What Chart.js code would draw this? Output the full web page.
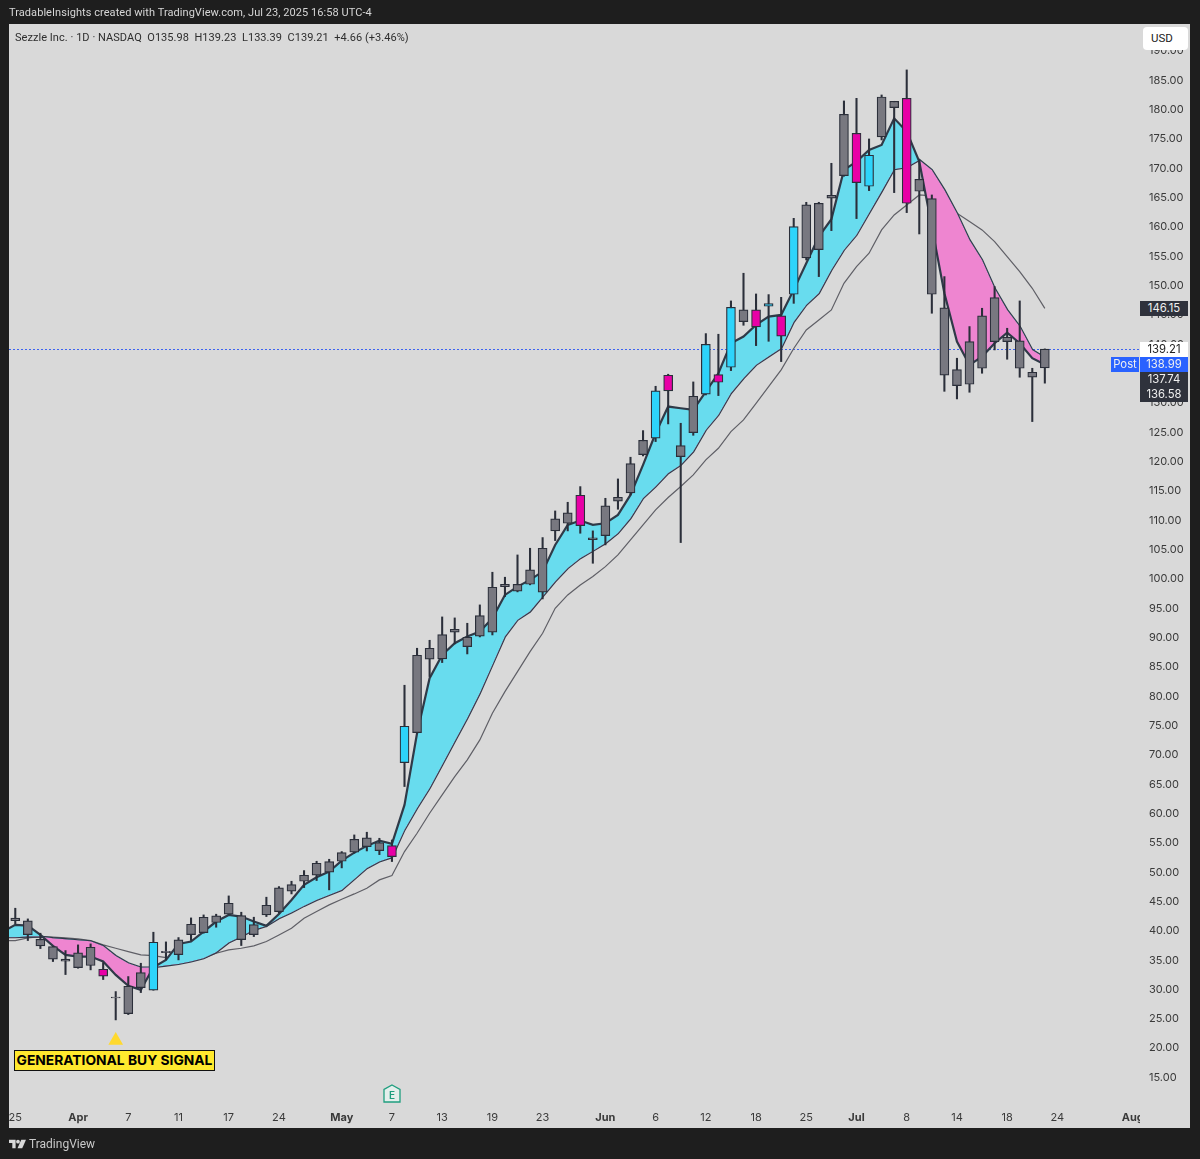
<!DOCTYPE html>
<html>
<head>
<meta charset="utf-8">
<title>Sezzle Inc. daily chart</title>
<script src="https://cdn.jsdelivr.net/npm/chart.js@4"></script>
<style>
html, body { margin: 0; padding: 0; width: 1200px; height: 1159px; overflow: hidden; background: #1e1e1e; font-family: Roboto, Inter, sans-serif; }
#panel { position: absolute; left: 9px; top: 24px; width: 1181px; height: 1104px; background: #d9d9d9; }
#wrap { position: absolute; left: 0; top: 0; width: 1200px; height: 1159px; }
.txt { position: absolute; white-space: pre; }
#credit { left: 9px; top: 6px; font-size: 11px; line-height: 14px; color: #d6d6d6; letter-spacing: 0.06px; }
#legend { left: 15px; top: 31px; font-size: 11px; line-height: 14px; color: #2e2e2e; letter-spacing: 0.04px; }
#usd { left: 1143px; top: 27px; width: 37px; height: 23px; padding-left: 8px; background: #fff; border-radius: 4px; font-size: 11.5px; line-height: 22px; color: #222; }
#brand { left: 29px; top: 1137px; font-size: 12px; line-height: 15px; color: #c9c9c9; }
#logo { position: absolute; left: 9px; top: 1139px; }
#signal { left: 14px; top: 1050px; width: 199px; height: 19px; border: 1px solid #111; background: #ffe92e; color: #000; font-family: Inter, Roboto, sans-serif; font-size: 13.8px; font-weight: 700; line-height: 19px; text-align: center; }
#earn { position: absolute; top: 1084px; width: 18px; height: 19px; margin-left: -9px; }
#augcut { position: absolute; left: 1140px; top: 1108px; width: 20px; height: 18px; background: #d9d9d9; }
.tag { position: absolute; left: 1140px; width: 48px; height: 15px; font-family: Inter, Roboto, sans-serif; font-size: 11.3px; line-height: 15px; text-align: center; color: #f0f0f0; background: #2f323c; }
</style>
</head>
<body>
<div id="panel"></div>
<div id="wrap"><canvas id="chart" width="1200" height="1159"></canvas></div>
<div id="augcut"></div>
<div class="txt" id="credit">TradableInsights created with TradingView.com, Jul 23, 2025 16:58 UTC-4</div>
<div class="txt" id="legend">Sezzle Inc. · 1D · NASDAQ  O135.98  H139.23  L133.39  C139.21  +4.66 (+3.46%)</div>
<div class="txt" id="usd">USD</div>
<div class="txt" id="signal">GENERATIONAL BUY SIGNAL</div>
<svg id="logo" width="17" height="10" viewBox="0 0 36 20"><path fill="#d8d8d8" d="M0 1h14v18H7V8H0z"/><circle cx="19" cy="5" r="4" fill="#d8d8d8"/><path fill="#d8d8d8" d="M26 1h10l-8 18H18z"/></svg>
<div class="txt" id="brand">TradingView</div>
<svg id="earn" viewBox="0 0 18 19"><path d="M9 1 L17 5.5 V18 H1 V5.5 Z" fill="#e4efec" stroke="#1f9e7f" stroke-width="1.3"/><text x="9" y="14.5" font-family="Inter, Roboto, sans-serif" font-size="10" font-weight="600" text-anchor="middle" fill="#1f9e7f">E</text></svg>
<script>
// Mar 24 sits just off the left edge, only the averages have a value there
const categories = [
	"Mar 24","Mar 25","Mar 26","Mar 27","Mar 28","Mar 31","Apr 1","Apr 2","Apr 3","Apr 4","Apr 7",
	"Apr 8","Apr 9","Apr 10","Apr 11","Apr 14","Apr 15","Apr 16","Apr 17","Apr 21","Apr 22",
	"Apr 23","Apr 24","Apr 25","Apr 28","Apr 29","Apr 30","May 1","May 2","May 5","May 6",
	"May 7","May 8","May 9","May 12","May 13","May 14","May 15","May 16","May 19","May 20",
	"May 21","May 22","May 23","May 27","May 28","May 29","May 30","Jun 2","Jun 3","Jun 4",
	"Jun 5","Jun 6","Jun 9","Jun 10","Jun 11","Jun 12","Jun 13","Jun 16","Jun 17","Jun 18",
	"Jun 20","Jun 23","Jun 24","Jun 25","Jun 26","Jun 27","Jun 30","Jul 1","Jul 2","Jul 3",
	"Jul 7","Jul 8","Jul 9","Jul 10","Jul 11","Jul 14","Jul 15","Jul 16","Jul 17","Jul 18",
	"Jul 21","Jul 22","Jul 23","Jul 24","Jul 25","Jul 28","Jul 29","Jul 30","Jul 31","Aug 1"
];
const tickDates = ["Mar 25","Apr 1","Apr 7","Apr 11","Apr 17","Apr 24","May 1","May 7","May 13","May 19","May 23","Jun 2","Jun 6","Jun 12","Jun 18","Jun 25","Jul 1","Jul 8","Jul 14","Jul 18","Jul 24","Aug 1"];
const tickLabels = ["25","Apr","7","11","17","24","May","7","13","19","23","Jun","6","12","18","25","Jul","8","14","18","24","Aug"];

const wickHigh = [null,
	43.86,42.04,39.60,37.40,36.64,37.61,37.78,34.60,29.65,32.21,34.48,39.77,38.12,38.86,42.21,42.72,42.84,45.96,43.18,42.33,
	45.74,47.55,48.46,50.28,51.87,52.21,53.52,56.36,56.82,55.79,55.50,81.88,88.19,89.55,93.53,93.36,92.45,95.58,101.15,100.30,
	104.10,105.24,107.06,111.60,113.08,115.75,108.20,113.76,117.06,120.76,125.30,132.86,134.91,126.55,133.60,141.84,141.73,147.41,152.13,148.60,
	148.49,148.03,161.50,164.23,164.23,170.88,181.51,181.96,175.03,182.53,181.45,186.80,171.45,165.48,151.56,137.64,143.04,146.16,149.86,142.75,
	147.41,135.93,139.23
];
const wickLow = [null,
	41.19,38.35,36.98,34.77,32.55,33.63,33.35,31.70,24.82,25.73,29.48,29.88,35.05,35.05,38.35,39.60,40.62,42.72,37.50,39.03,
	42.44,43.01,46.30,47.38,48.58,46.99,50.74,53.24,53.63,53.00,51.82,64.61,73.70,83.36,85.75,88.93,87.22,90.12,90.46,97.00,
	97.80,99.00,96.60,106.55,108.20,107.80,102.68,105.81,111.89,114.33,120.98,123.43,126.44,106.21,124.50,131.38,131.27,135.53,143.26,139.79,
	140.53,137.07,147.00,154.40,151.56,159.40,168.67,161.45,166.22,174.86,165.88,162.47,158.83,145.31,132.00,130.70,131.84,135.08,139.06,137.47,
	134.40,126.84,133.39
];
const bodyTop = [null,
	42.16,41.70,38.57,37.32,35.17,36.24,37.21,33.46,28.69,30.56,32.89,38.06,36.53,38.46,41.13,42.33,42.56,44.71,42.61,41.08,
	44.37,47.33,47.89,49.49,51.53,51.82,53.35,55.62,55.85,55.06,54.54,74.89,87.00,88.19,90.52,91.43,90.07,93.76,98.59,99.10,
	99.10,101.55,105.24,110.24,111.26,114.28,107.00,112.46,113.94,119.68,123.65,132.07,134.74,122.75,131.16,140.02,134.85,146.33,145.88,145.88,
	146.96,144.85,160.09,163.78,164.06,165.43,179.24,176.00,172.25,182.19,181.45,181.96,168.15,164.86,146.22,135.70,140.48,144.85,147.98,141.22,
	140.59,135.25,139.21
];
const bodyBottom = [null,
	41.76,39.37,37.44,35.17,34.82,33.74,34.09,32.27,28.57,25.90,30.33,29.88,36.30,35.96,39.37,39.71,41.42,42.84,38.52,39.37,
	42.72,43.29,46.76,48.46,49.49,50.00,51.87,53.41,54.37,53.69,52.67,68.70,73.81,86.32,86.37,90.92,88.47,90.24,90.92,98.70,
	97.91,99.10,97.74,108.20,109.50,109.10,106.72,107.40,113.26,114.68,121.21,124.00,132.07,120.87,124.96,131.50,133.54,136.10,143.89,142.98,
	146.50,141.39,148.55,154.74,156.16,164.92,168.78,167.59,166.96,175.37,180.37,164.06,166.11,148.55,134.74,132.98,133.20,135.93,140.48,140.48,
	135.93,134.40,135.98
];
// bars coloured by the signal study, everything else stays grey
const buyBars = [12,32,52,56,58,61,63,69];
const sellBars = [8,31,46,53,57,60,62,68,72];

const fastAvg = [39.88,
	41.02,40.90,39.31,37.44,35.90,35.62,35.62,34.77,32.49,30.62,29.94,33.80,35.05,37.78,38.18,39.88,41.59,42.72,42.44,41.59,
	40.85,42.89,45.28,47.84,49.15,50.11,51.99,53.35,54.49,55.40,54.83,61.48,73.70,83.08,87.05,89.04,90.18,91.03,93.30,97.28,
	98.70,99.84,101.26,105.81,109.22,109.96,109.22,109.50,110.92,114.33,119.45,124.85,129.40,129.11,128.83,131.95,135.08,140.19,141.33,143.32,
	144.74,145.02,149.30,153.83,158.38,161.34,169.75,171.17,173.16,174.01,178.55,176.28,171.17,160.08,148.72,140.48,136.50,137.92,140.19,142.00,
	140.19,137.64,136.58
];
const slowAvg = [38.92,
	38.92,39.03,39.03,38.75,38.58,38.40,38.23,37.44,35.73,34.48,33.74,33.80,34.08,34.37,34.77,35.34,36.36,38.01,39.03,40.17,
	40.85,42.16,43.12,44.26,45.28,46.13,46.98,48.80,50.68,51.82,52.55,57.22,60.91,64.32,68.30,72.28,76.26,80.52,85.35,90.18,
	93.02,94.44,97.00,99.56,101.83,103.54,104.79,106.09,107.80,110.35,113.77,115.76,118.03,119.45,121.72,125.42,127.97,131.67,134.22,136.50,
	137.92,139.34,143.80,146.73,148.72,152.70,156.11,158.66,162.36,166.05,169.86,170.20,171.45,169.75,166.34,162.36,157.81,154.40,149.57,145.88,
	143.04,139.06,137.74
];
const trendAvg = [38.30,
	38.35,38.80,39.03,38.92,38.80,38.63,38.35,37.61,37.04,36.47,35.90,35.79,35.45,35.16,35.05,35.34,36.19,36.76,37.04,37.44,
	38.18,39.31,40.45,42.16,43.29,44.43,45.39,46.30,47.27,48.69,49.43,53.52,56.65,60.06,63.19,66.31,69.15,72.56,77.11,80.80,
	84.21,87.62,90.75,95.01,97.28,98.99,100.41,102.11,104.10,106.66,109.22,111.78,113.90,115.76,117.74,120.30,122.29,125.13,127.12,129.96,
	132.80,135.65,139.30,142.47,144.17,145.88,150.42,153.27,155.54,159.52,162.07,163.78,165.48,165.31,164.06,162.36,160.94,159.52,157.53,154.97,
	152.41,149.57,146.15
];

const signalDate = "Apr 4";
const signalPrice = 21.3;
const earningsDate = "May 7";
const lastClose = 139.21;
const trendTag = { price: 146.15, text: "146.15" };
const stackTags = ["139.21", "138.99", "137.74", "136.58"];

const GREY = "#787880", CYAN = "#2dd4fb", MAGENTA = "#e800a6", EDGE = "#2b2f3a";
const wicks = wickLow.map((l, i) => (l === null ? null : [l, wickHigh[i]]));
const bodies = bodyBottom.map((b, i) => (b === null ? null : [b, bodyTop[i]]));
const bodyColors = bodies.map((b, i) => buyBars.includes(i) ? CYAN : sellBars.includes(i) ? MAGENTA : GREY);
const signalPoint = categories.map((c) => (c === signalDate ? signalPrice : null));

const priceLine = {
	id: "priceLine",
	beforeDatasetsDraw(chart) {
		const { ctx, chartArea, scales } = chart;
		const y = Math.round(scales.y.getPixelForValue(lastClose)) + 0.5;
		ctx.save();
		ctx.strokeStyle = "#3d63f0";
		ctx.lineWidth = 1;
		ctx.setLineDash([2, 2]);
		ctx.beginPath();
		ctx.moveTo(chartArea.left, y);
		ctx.lineTo(chartArea.right, y);
		ctx.stroke();
		ctx.restore();
	},
};

const chart = new Chart(document.getElementById("chart"), {
	data: {
		labels: categories,
		datasets: [
			{ type: "line", label: "Trend", data: trendAvg, borderColor: "#5f5f66", borderWidth: 1.2, pointRadius: 0, tension: 0, fill: false, order: 6 },
			{ type: "line", label: "Slow", data: slowAvg, borderColor: "#2f3a48", borderWidth: 2.2, pointRadius: 0, tension: 0, fill: false, order: 5 },
			{ type: "line", label: "Fast", data: fastAvg, borderColor: "#2f3a48", borderWidth: 2.2, pointRadius: 0, tension: 0, order: 4,
				fill: { target: 1, above: "#68dcee", below: "#ee85d0" } },
			{ type: "bar", label: "Wick", data: wicks, backgroundColor: EDGE, barThickness: 1.4, grouped: false, order: 3 },
			{ type: "bar", label: "Body", data: bodies, backgroundColor: bodyColors, borderColor: EDGE, borderWidth: 1.2, borderSkipped: false, barThickness: 9, grouped: false, order: 2 },
			{ type: "line", label: "Signal", data: signalPoint, showLine: false, pointStyle: "triangle", pointRadius: 8.5, pointBackgroundColor: "#ffd92e", pointBorderWidth: 0, order: 1 },
		],
	},
	options: {
		responsive: false,
		animation: false,
		layout: { padding: { left: 9, right: 10, top: 24, bottom: 31 } },
		plugins: { legend: { display: false }, tooltip: { enabled: false } },
		scales: {
			x: {
				type: "category",
				min: "Mar 25",
				max: "Aug 1",
				offset: true,
				afterFit(scale) { scale.height = 24; },
				grid: { display: false, drawTicks: false },
				border: { display: false },
				ticks: {
					autoSkip: false,
					maxRotation: 0,
					padding: 7,
					color: "#3a3a3a",
					font: (ctx) => ({ family: "Inter, Roboto, sans-serif", size: 11, weight: /^[A-Z]/.test(ctx.tick.label || "") ? "700" : "400" }),
					callback(value) {
						const k = tickDates.indexOf(categories[value]);
						return k < 0 ? null : tickLabels[k];
					},
				},
			},
			y: {
				type: "linear",
				position: "right",
				min: 10.48,
				max: 194.63,
				afterFit(scale) { scale.width = 51; },
				grid: { display: false, drawTicks: false },
				border: { display: false },
				ticks: {
					stepSize: 5,
					includeBounds: false,
					padding: 10,
					color: "#3a3a3a",
					font: { family: "Inter, Roboto, sans-serif", size: 11 },
					callback: (v) => v.toFixed(2),
				},
			},
		},
	},
	plugins: [priceLine],
});

// price tags and the earnings badge follow the chart's scales
function addTag(text, top, extra) {
	const el = document.createElement("div");
	el.className = "tag";
	el.textContent = text;
	el.style.top = top + "px";
	Object.assign(el.style, extra || {});
	document.body.appendChild(el);
	return el;
}
const yScale = chart.scales.y;
addTag(trendTag.text, Math.round(yScale.getPixelForValue(trendTag.price)) - 7);
const stackTop = Math.round(yScale.getPixelForValue(lastClose)) - 7;
stackTags.forEach((t, i) => {
	const style = i === 0 ? { background: "#fff", color: "#222" } : i === 1 ? { background: "#2962ff" } : {};
	addTag(t, stackTop + i * 15, style);
});
addTag("Post", stackTop + 15, { left: "1111px", width: "28px", background: "#2962ff" });
document.getElementById("earn").style.left = chart.scales.x.getPixelForValue(categories.indexOf(earningsDate)) + "px";
</script>
</body>
</html>
